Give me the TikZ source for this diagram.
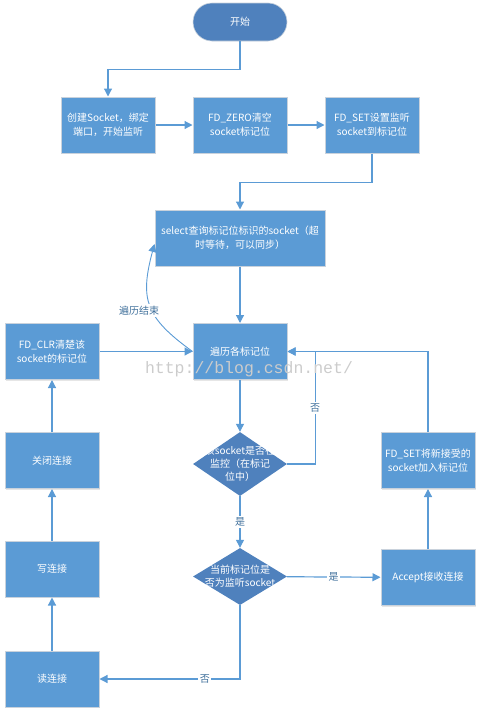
\documentclass[tikz,border=0pt]{standalone}
\usepackage{fontspec}
\setmainfont{Noto Sans CJK SC}
\newfontfamily\wmfont{Liberation Mono}
\usetikzlibrary{shapes.geometric,arrows.meta,shadows}
\definecolor{boxblue}{HTML}{5B9BD5}
\definecolor{darkblue}{HTML}{4F81BD}
\definecolor{boxedge}{HTML}{C9D2DC}
\definecolor{lineblue}{HTML}{5B9BD5}
\definecolor{labelblue}{HTML}{41719C}

\begin{document}
\begin{tikzpicture}[x=1pt,y=1pt]
  % Define styles for boxes, decisions and connectors
  \tikzset{
    base node/.style={text=white, align=center, font=\fontsize{10}{14}\selectfont, inner sep=0pt},
    proc node/.style={base node, rectangle, fill=boxblue, draw=boxedge, line width=1pt,
      minimum width=94pt, minimum height=56pt,
      drop shadow={shadow xshift=1pt, shadow yshift=-1pt, opacity=0.2}},
    term node/.style={base node, rectangle, rounded corners=19pt, fill=darkblue, draw=boxedge,
      line width=0.6pt, minimum width=94pt, minimum height=38pt},
    dec node/.style={diamond, fill=darkblue, inner sep=0pt, minimum width=94pt, minimum height=#1},
    dec node/.default=57pt,
    dec text/.style={base node, font=\fontsize{10}{13}\selectfont},
    flow/.style={draw=lineblue, line width=1.2pt, -{Triangle[width=8pt,length=8pt]}},
    flow label/.style={fill=white, text=labelblue, font=\fontsize{10}{12}\selectfont, inner sep=1.5pt}
  }
  \useasboundingbox (0,0) rectangle (481,-715);

  % Start and first row
  \node[term node] (start) at (240,-22) {开始};
  \node[proc node] (create) at (108,-125) {创建Socket，绑定\\端口，开始监听};
  \node[proc node] (zero) at (240,-125) {FD\_ZERO清空\\socket标记位};
  \node[proc node] (setlisten) at (372,-125) {FD\_SET设置监听\\socket到标记位};

  % Select and traversal
  \node[proc node, minimum width=170pt] (select) at (240,-238) {select查询标记位标识的socket（超\\时等待，可以同步）};
  \node[proc node] (trav) at (240,-351.5) {遍历各标记位};

  % Left column
  \node[proc node] (clr) at (52,-351.5) {FD\_CLR清楚该\\socket的标记位};
  \node[proc node] (close) at (52,-460.5) {关闭连接};
  \node[proc node] (write) at (52,-569) {写连接};
  \node[proc node] (read) at (52,-679) {读连接};

  % Decisions
  \node[dec node=64pt, label={[dec text]center:{该socket是否在\\监控（在标记\\位中）}}] (inset) at (240,-464) {};
  \node[dec node, label={[dec text]center:{当前标记位是\\否为监听socket}}] (islisten) at (240,-576.5) {};

  % Right column
  \node[proc node] (accept) at (428,-577.5) {Accept接收连接};
  \node[proc node] (setnew) at (428,-460.5) {FD\_SET将新接受的\\socket加入标记位};

  % Connectors
  \draw[flow] (start.south) -- ++(0,-28) -| (create.north);
  \draw[flow] (create) -- (zero);
  \draw[flow] (zero) -- (setlisten);
  \draw[flow] (setlisten.south) -- ++(0,-29) -| (select.north);
  \draw[flow] (select) -- (trav);
  \draw[flow] (trav) -- (inset);
  \draw[flow] (inset.east) -- ++(28,0) |- node[flow label, pos=0.25] {否} (trav.east);
  \draw[flow] (inset) -- node[flow label] {是} (islisten);
  \draw[flow] (islisten) -- node[flow label] {是} (accept);
  \draw[flow] (accept) -- (setnew);
  \draw[flow] (setnew.north) |- (trav.east);
  \draw[flow] (islisten.south) |- node[flow label, pos=0.625] {否} (read.east);
  \draw[flow] (read) -- (write);
  \draw[flow] (write) -- (close);
  \draw[flow] (close) -- (clr);
  \draw[flow] (clr) -- (trav);
  \draw[flow, line width=0.9pt] (trav.west) to[out=144, in=255, looseness=1.3]
    node[flow label, pos=0.45, xshift=-13pt] {遍历结束} (select.184);

  % Watermark
  \node[font=\wmfont\fontsize{16.5}{16.5}\selectfont, text=black!20] (wm) at (249,-369) {http://blog.csdn.net/};
\end{tikzpicture}
\end{document}
